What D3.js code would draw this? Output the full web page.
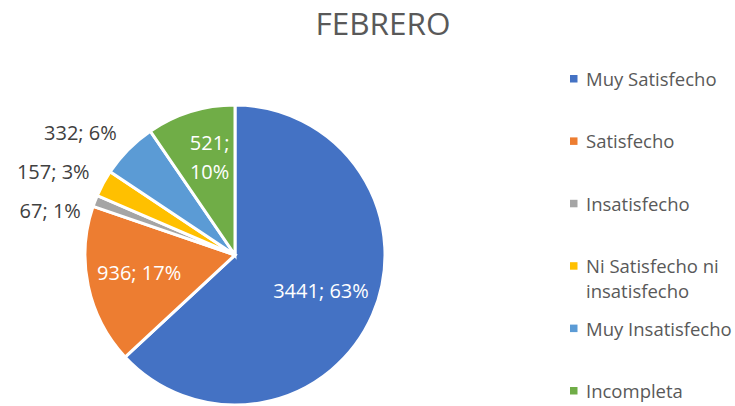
<!DOCTYPE html>
<html>
<head>
<meta charset="utf-8">
<script src="https://cdn.jsdelivr.net/npm/d3@7"></script>
<style>
  html, body { margin: 0; padding: 0; background: #fff; }
  svg { display: block; font-family: "Open Sans", sans-serif; }
</style>
</head>
<body>
<div id="chart"></div>
<script>
// ---- Data
const categories = ['Muy Satisfecho', 'Satisfecho', 'Insatisfecho', 'Ni Satisfecho ni insatisfecho', 'Muy Insatisfecho', 'Incompleta'];
const values = [3441, 936, 67, 157, 332, 521];
const percents = ['63%', '17%', '1%', '3%', '6%', '10%'];
const colors = ['#4472C4', '#ED7D31', '#A5A5A5', '#FFC000', '#5B9BD5', '#70AD47'];
const title = 'FEBRERO';

const width = 735, height = 406;
const cx = 235, cy = 255, radius = 150;

const svg = d3.select('#chart')
    .append('svg')
    .attr('width', width)
    .attr('height', height);

// ---- Title
svg.append('text')
    .attr('x', 383)
    .attr('y', 35)
    .attr('text-anchor', 'middle')
    .style('font-size', '31.5px')
    .style('fill', '#595959')
    .text(title);

// ---- Pie
const rows = categories.map((c, i) => ({ name: c, value: values[i], pct: percents[i], color: colors[i] }));
const pie = d3.pie().value(d => d.value).sort(null);
const arcs = pie(rows);
const arc = d3.arc().innerRadius(0).outerRadius(radius);

const g = svg.append('g').attr('transform', `translate(${cx},${cy})`);

g.selectAll('path')
    .data(arcs)
    .join('path')
    .attr('d', arc)
    .style('fill', d => d.data.color)
    .style('stroke', '#fff')
    .style('stroke-width', 3)
    .style('stroke-linejoin', 'miter');

// ---- Data labels
const labelSize = '20px';
const big = arcs.filter(d => (d.endAngle - d.startAngle) > 0.5);
const small = arcs.filter(d => (d.endAngle - d.startAngle) <= 0.5);

const inner = d3.arc().innerRadius(radius * 0.64).outerRadius(radius * 0.64);
big.forEach(d => {
    const [x, y] = inner.centroid(d);
    const t = g.append('text')
        .attr('text-anchor', 'middle')
        .style('font-size', labelSize)
        .style('fill', '#fff');
    if (d.data.name === 'Incompleta') {
        t.append('tspan').attr('x', x + 3).attr('y', y - 13).text(`${d.data.value};`);
        t.append('tspan').attr('x', x + 3).attr('y', y + 16).text(d.data.pct);
    } else {
        t.attr('x', x - 2).attr('y', y + 5).text(`${d.data.value}; ${d.data.pct}`);
    }
});

// outside labels: place at angle, then spread vertically
const outR = radius + 12;
const outer = small.map(d => {
    const a = (d.startAngle + d.endAngle) / 2;
    return { d, x: Math.sin(a) * outR, y: -Math.cos(a) * outR };
}).sort((a, b) => a.y - b.y);
const gap = 39;
const mean = d3.mean(outer, o => o.y);
outer.forEach((o, i) => { o.y = mean + (i - (outer.length - 1) / 2) * gap; });

g.selectAll('.outLabel')
    .data(outer)
    .join('text')
    .attr('class', 'outLabel')
    .attr('x', o => o.x - 3)
    .attr('y', o => o.y + 7)
    .attr('text-anchor', 'end')
    .style('font-size', labelSize)
    .style('fill', '#404040')
    .text(o => `${o.d.data.value}; ${o.d.data.pct}`);

// ---- Legend
const legendX = 570, legendTop = 86, legendStep = 62.4;
const legend = svg.append('g');
rows.forEach((r, i) => {
    const y = legendTop + i * legendStep;
    legend.append('rect')
        .attr('x', legendX)
        .attr('y', y - 11)
        .attr('width', 7.5)
        .attr('height', 7.5)
        .style('fill', r.color);
    const t = legend.append('text')
        .attr('x', legendX + 16)
        .attr('y', y)
        .style('font-size', '18.5px')
        .style('fill', '#595959');
    if (r.name === 'Ni Satisfecho ni insatisfecho') {
        t.append('tspan').attr('x', legendX + 16).attr('y', y).text('Ni Satisfecho ni');
        t.append('tspan').attr('x', legendX + 16).attr('y', y + 25).text('insatisfecho');
    } else {
        t.text(r.name);
    }
});
</script>
</body>
</html>
